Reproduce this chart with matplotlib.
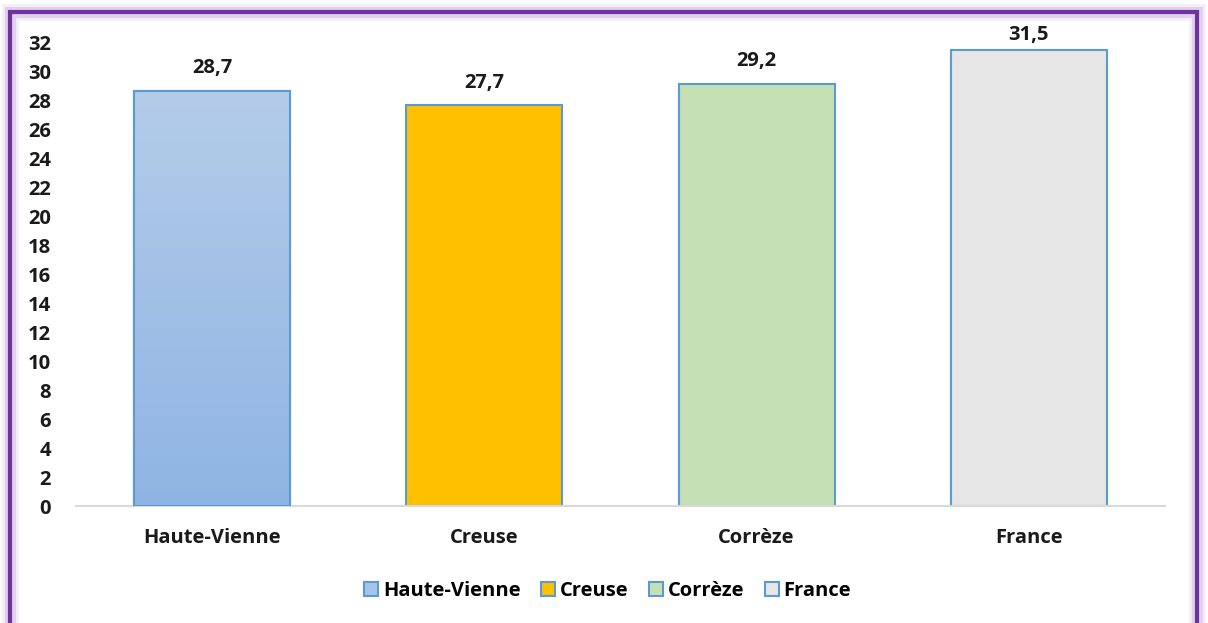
import numpy as np
import matplotlib.pyplot as plt
from matplotlib.patches import Rectangle, Patch
from matplotlib.colors import LinearSegmentedColormap

# data
categories = ['Haute-Vienne', 'Creuse', 'Corrèze', 'France']
values = [28.7, 27.7, 29.2, 31.5]
labels = ['28,7', '27,7', '29,2', '31,5']
colors = ['#A7C4E8', '#FFC000', '#C5E0B4', '#E7E6E6']
edge = '#5B9BD5'

plt.rcParams['font.family'] = ['Open Sans', 'DejaVu Sans']
plt.rcParams['font.weight'] = 'bold'
fs = 14.5

fig = plt.figure(figsize=(12.08, 6.23), dpi=100)
ax = fig.add_axes([0.0629, 0.1878, 0.9015, 0.7432])

x = np.arange(len(categories))
width = 0.573
bars = ax.bar(x, values, width=width, color=colors, edgecolor=edge, linewidth=1.5, zorder=2)

# gradient fill for the first bar
grad = np.linspace(0, 1, 256).reshape(-1, 1)
cmap = LinearSegmentedColormap.from_list('hv', ['#8FB4E3', '#B4CCE9'])
b0 = bars[0]
im = ax.imshow(grad, cmap=cmap, aspect='auto', origin='lower',
               extent=[b0.get_x(), b0.get_x() + width, 0, values[0]], zorder=2.1)
im.set_clip_path(b0)
ax.bar(x[0], values[0], width=width, fill=False, edgecolor=edge, linewidth=1.5, zorder=3)

# label offsets (the tallest one is pushed down to stay inside the plot area)
offsets = [9, 9, 9, 4]
for xi, v, lab, off in zip(x, values, labels, offsets):
    ax.annotate(lab, (xi, v), xytext=(0, off), textcoords='offset points',
                ha='center', va='bottom', fontsize=fs, fontweight='bold', color='#1a1a1a')

ax.set_xlim(-0.5, 3.5)
ax.set_ylim(0, 32)
ax.set_yticks(np.arange(0, 33, 2))
ax.set_xticks(x)
ax.set_xticklabels(categories)
ax.tick_params(axis='both', length=0, labelsize=fs, colors='#1a1a1a')
ax.tick_params(axis='x', pad=16)
ax.tick_params(axis='y', pad=18)
for lab in ax.get_xticklabels() + ax.get_yticklabels():
    lab.set_fontweight('bold')
for s in ['top', 'right', 'left']:
    ax.spines[s].set_visible(False)
ax.spines['bottom'].set_color('#D9D9D9')
ax.spines['bottom'].set_linewidth(1.5)

handles = [Patch(facecolor=c, edgecolor=edge, linewidth=1.5) for c in ['#A7C4E8', '#FFC000', '#C5E0B4', '#E7E6E6']]
fig.legend(handles, categories, loc='center', bbox_to_anchor=(0.503, 0.052), ncol=4,
           frameon=False, handlelength=0.7, handleheight=0.7,
           handletextpad=0.25, columnspacing=1.0,
           prop={'weight': 'bold', 'size': fs})

# purple frame with soft glow
for lw, a in [(12, 0.08), (8, 0.15)]:
    fig.patches.append(Rectangle((10 / 1208, -0.05), 1187 / 1208, 1.05 - 12 / 623,
                                 transform=fig.transFigure, fill=False,
                                 edgecolor='#7030A0', linewidth=lw, alpha=a))
fig.patches.append(Rectangle((10 / 1208, -0.05), 1187 / 1208, 1.05 - 12 / 623,
                             transform=fig.transFigure, fill=False,
                             edgecolor='#7030A0', linewidth=3))

fig.savefig('out.png', dpi=100)
